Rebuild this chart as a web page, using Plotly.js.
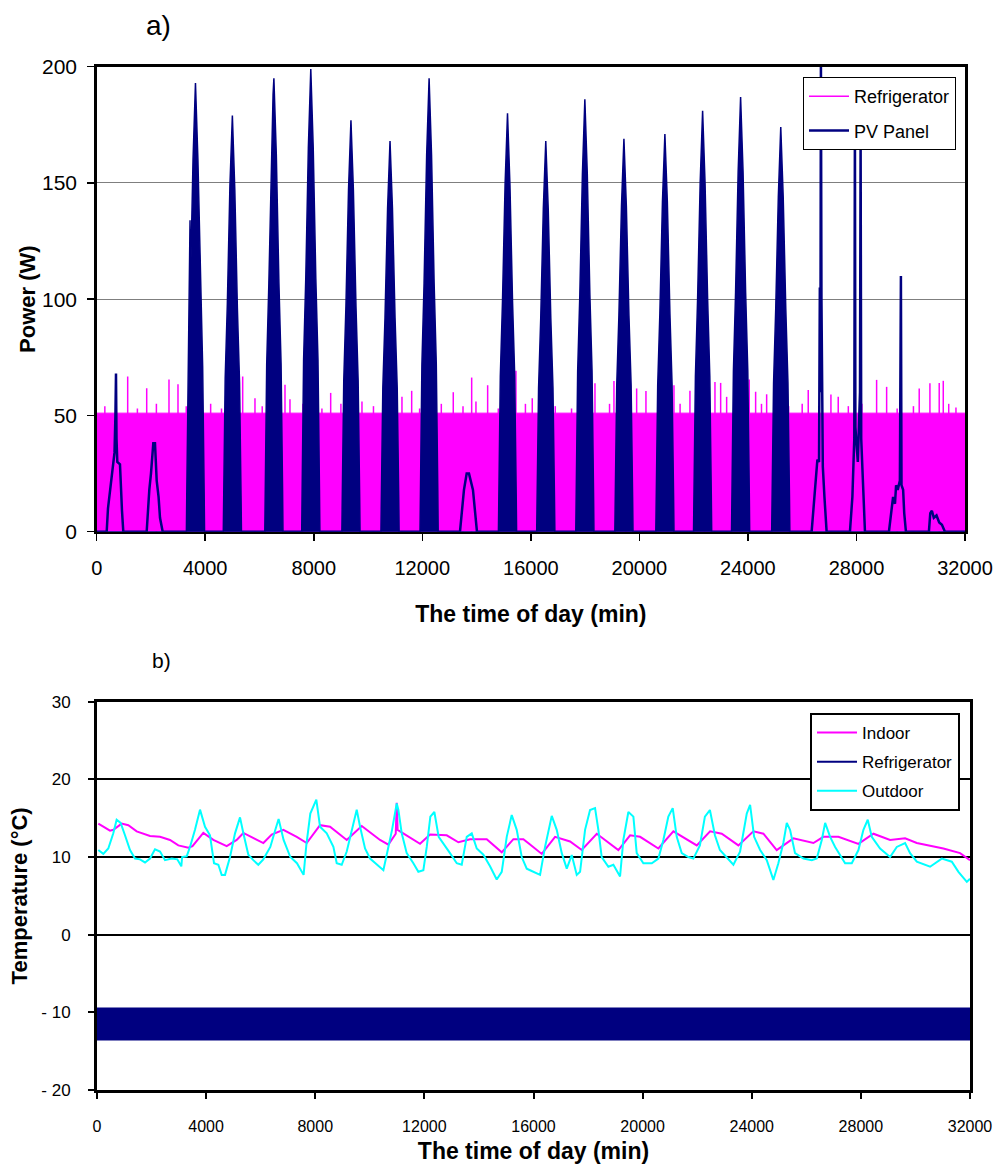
<!DOCTYPE html>
<html>
<head>
<meta charset="utf-8">
<script src="https://cdn.plot.ly/plotly-3.0.1.min.js"></script>
<style>html,body{margin:0;padding:0;background:#fff;}#chart{width:998px;height:1164px;}</style>
</head>
<body>
<div id="chart"></div>
<script>
// ---------- a) Power ----------
const timeTicks = [0, 4000, 8000, 12000, 16000, 20000, 24000, 28000, 32000];
const timeTickText = ['0', '4000', '8000', '12000', '16000', '20000', '24000', '28000', '32000'];

// Refrigerator power: compressor band level and the taller spikes (min, W)
const refBandTime = [0, 32000];
const refBandPower = [51, 51];
const refSpikeTime = [300, 1142, 1500, 1843, 2200, 2664, 2996, 3300, 4200, 4600, 5380, 5833, 6100, 6939, 7123, 7600, 8300, 8623, 9000, 9776, 10200, 11250, 11608, 11900, 12700, 13141, 13500, 13819, 13977, 14408, 14800, 15451, 15800, 16052, 16900, 17500, 18363, 18900, 19063, 19500, 19899, 20242, 20700, 21274, 21500, 21863, 22400, 22785, 22995, 23216, 23700, 24049, 24284, 24500, 24690, 25500, 26000, 26223, 27059, 27328, 27700, 28200, 28743, 29112, 29500, 30100, 30313, 30707, 31050, 31199, 31400, 31667];
const refSpikePower = [54, 66.7, 53, 61.7, 55, 65.5, 63.4, 54, 55, 53, 66.7, 57.4, 54, 63.2, 57, 55, 53, 59.7, 55, 56, 54, 58, 60.6, 53, 55, 60, 54, 66.3, 56, 63, 53, 69.2, 55, 57.4, 54, 53, 63.8, 55, 64.8, 54, 61.6, 60.5, 53, 63, 55, 60.6, 54, 64.4, 64, 58, 53, 65.5, 60.2, 55, 59.1, 54, 55, 61, 59, 58, 54, 55, 65.3, 62.3, 53, 54, 61.6, 63.8, 64, 64.9, 55, 53.4];

// PV panel power on clear days (solid daily envelopes)
const pvSunnyTime = [0,
  3305, 3320, 3375, 3430, 3440, 3450, 3455, 3550, 3640, 3730, 3825, 3905, 3960, 3975,
  4665, 4680, 4735, 4815, 4910, 5000, 5090, 5185, 5265, 5320, 5335,
  6195, 6210, 6265, 6345, 6440, 6500, 6530, 6620, 6715, 6795, 6850, 6865,
  7555, 7570, 7625, 7705, 7800, 7890, 7980, 8075, 8155, 8210, 8225,
  9035, 9050, 9105, 9185, 9280, 9370, 9460, 9555, 9635, 9690, 9705,
  10475, 10490, 10545, 10625, 10720, 10810, 10900, 10995, 11075, 11130, 11145,
  11915, 11930, 11985, 12065, 12160, 12250, 12340, 12435, 12515, 12570, 12585,
  14805, 14820, 14875, 14955, 15050, 15140, 15230, 15325, 15405, 15460, 15475,
  16215, 16230, 16285, 16365, 16460, 16550, 16640, 16735, 16815, 16870, 16885,
  17655, 17670, 17725, 17805, 17900, 17990, 18080, 18175, 18255, 18310, 18325,
  19095, 19110, 19165, 19245, 19340, 19430, 19520, 19615, 19695, 19750, 19765,
  20605, 20620, 20675, 20755, 20850, 20940, 21030, 21125, 21205, 21260, 21275,
  21995, 22010, 22065, 22145, 22240, 22330, 22420, 22515, 22595, 22650, 22665,
  23395, 23410, 23465, 23545, 23640, 23730, 23820, 23915, 23995, 24050, 24065,
  24875, 24890, 24945, 25025, 25120, 25210, 25300, 25395, 25475, 25530, 25545,
  32000];
const pvSunnyPower = [0,
  0, 17, 71, 100, 134, 104, 106, 160, 193, 160, 106, 71, 17, 0,
  0, 16, 66, 98, 149, 179, 147, 96, 64, 15, 0,
  0, 18, 72, 107, 162, 188, 195, 162, 107, 72, 18, 0,
  0, 18, 74, 109, 165, 199, 165, 109, 74, 18, 0,
  0, 16, 65, 97, 147, 177, 147, 97, 65, 16, 0,
  0, 15, 62, 92, 139, 168, 139, 92, 62, 15, 0,
  0, 18, 72, 107, 162, 195, 162, 107, 72, 18, 0,
  0, 16, 67, 99, 149, 180, 149, 99, 67, 16, 0,
  0, 15, 62, 92, 139, 168, 139, 92, 62, 15, 0,
  0, 17, 69, 102, 154, 186, 154, 102, 69, 17, 0,
  0, 15, 63, 93, 140, 169, 140, 93, 63, 15, 0,
  0, 15, 63, 94, 142, 171, 142, 94, 63, 15, 0,
  0, 16, 67, 100, 150, 181, 150, 100, 67, 16, 0,
  0, 17, 69, 103, 155, 187, 155, 103, 69, 17, 0,
  0, 16, 64, 96, 144, 174, 144, 96, 64, 16, 0,
  0];

// PV panel power on cloudy days (outlines and short spikes)
const pvCloudyTime = [0,
  368, 416, 490, 600, 656, 690, 711, 730, 760, 858, 900, 932, 980,
  1842, 1939, 2000, 2086, 2148, 2211, 2280, 2333, 2432,
  13388, 13462, 13535, 13635, 13720, 13867, 13977, 14014,
  26348, 26420, 26500, 26560, 26620, 26650, 26670, 26690, 26710, 26740, 26760, 26820, 26880, 26900,
  27760, 27850, 27920, 27943, 27960, 28050, 28130, 28153, 28175, 28230, 28313,
  29197, 29280, 29350, 29420, 29460, 29520, 29600, 29638, 29660, 29720, 29760, 29823,
  30670, 30720, 30780, 30850, 30950, 31050, 31150, 31260,
  32000];
const pvCloudyPower = [0,
  0, 10, 18, 30, 34, 50, 68, 40, 30, 29, 15, 9, 0,
  0, 18, 25, 38, 38, 22, 15, 6, 0,
  0, 10, 18, 25, 25, 18, 5, 0,
  0, 12, 25, 31, 30, 105, 60, 205, 100, 40, 28, 15, 5, 0,
  0, 15, 40, 178, 45, 30, 60, 172, 40, 21, 0,
  0, 8, 15, 12, 20, 18, 22, 110, 20, 18, 8, 0,
  0, 8, 9, 6, 7, 4, 3, 0,
  0];

// ---------- b) Temperature ----------
const indoorTime = [48, 231, 477, 600, 905, 1148, 1455, 1943, 2310, 2676, 2981, 3347, 3500, 3897, 4264, 4754, 5121, 5365, 5854, 6098, 6404, 6831, 7321, 7688, 8176, 8542, 9154, 9704, 10375, 10680, 10950, 10987, 11020, 11841, 12207, 12819, 13246, 13674, 14286, 14836, 15263, 15629, 15874, 16303, 16790, 17340, 17769, 18319, 19111, 19540, 19907, 20577, 21127, 21985, 22473, 22901, 23510, 24060, 24427, 24915, 25526, 26260, 26626, 27176, 27910, 28460, 29071, 29621, 30050, 31025, 31637, 32000];
const indoorTemp = [14.3, 13.9, 13.4, 13.5, 14.3, 14.1, 13.3, 12.7, 12.6, 12.2, 11.5, 11.2, 11.4, 13.1, 12.2, 11.4, 12.2, 13.1, 12.2, 11.8, 12.9, 13.5, 12.6, 11.8, 14.1, 13.9, 12.2, 14.0, 12.2, 11.6, 13.0, 17.0, 13.5, 11.7, 12.9, 12.8, 11.9, 12.3, 12.3, 10.6, 12.3, 12.3, 11.6, 10.4, 12.6, 12.0, 10.9, 13.0, 10.9, 12.8, 12.6, 11.1, 13.3, 11.5, 13.3, 13.0, 11.5, 13.3, 13.0, 10.9, 12.4, 11.8, 12.6, 12.6, 11.7, 13.0, 12.2, 12.4, 11.8, 11.1, 10.5, 9.6];

const outdoorTime = [48, 231, 414, 597, 720, 866, 1026, 1210, 1393, 1576, 1760, 1943, 2126, 2310, 2493, 2737, 2943, 3091, 3120, 3289, 3409, 3592, 3776, 3959, 4142, 4289, 4448, 4571, 4692, 4876, 5059, 5242, 5365, 5547, 5730, 5913, 6096, 6353, 6537, 6657, 6840, 7086, 7330, 7573, 7672, 7819, 8039, 8176, 8421, 8665, 8787, 8970, 9154, 9337, 9520, 9643, 9825, 10009, 10253, 10497, 10620, 10815, 10987, 11048, 11170, 11353, 11597, 11779, 11963, 12087, 12219, 12366, 12524, 12757, 12940, 13187, 13370, 13553, 13737, 13920, 14163, 14407, 14652, 14836, 15019, 15202, 15385, 15569, 15752, 15874, 16240, 16423, 16669, 16852, 17036, 17219, 17402, 17585, 17707, 17890, 18073, 18256, 18378, 18500, 18745, 18928, 19173, 19294, 19477, 19661, 19784, 20027, 20336, 20577, 20760, 20943, 21103, 21250, 21433, 21676, 21860, 22099, 22283, 22466, 22650, 22833, 23078, 23327, 23571, 23817, 23940, 24087, 24307, 24551, 24792, 24975, 25158, 25284, 25404, 25587, 25893, 26200, 26383, 26567, 26690, 26873, 27056, 27422, 27667, 27910, 28093, 28252, 28399, 28704, 29071, 29316, 29621, 29804, 30050, 30537, 30966, 31333, 31576, 31883, 32000];
const outdoorTemp = [10.9, 10.4, 11.1, 13.05, 14.8, 14.4, 12.8, 10.9, 9.8, 9.7, 9.3, 9.8, 11.0, 10.7, 9.6, 9.8, 9.7, 8.8, 10.0, 10.1, 11.3, 13.5, 16.1, 13.9, 12.8, 9.2, 9.0, 7.7, 7.7, 10.0, 13.05, 15.1, 13.05, 10.3, 9.6, 9.0, 9.7, 11.3, 13.5, 14.9, 12.2, 10.0, 9.2, 7.7, 11.5, 15.6, 17.4, 13.9, 13.05, 11.3, 9.2, 9.0, 10.7, 13.5, 16.1, 13.9, 11.1, 9.8, 9.0, 8.3, 10.3, 13.5, 16.9, 16.05, 13.05, 10.5, 9.2, 8.1, 8.3, 11.3, 15.2, 15.8, 12.6, 11.5, 10.5, 9.2, 9.0, 12.6, 13.05, 11.1, 10.3, 8.8, 7.1, 8.1, 12.6, 15.4, 13.5, 10.0, 8.5, 8.3, 7.7, 11.3, 15.3, 13.5, 10.5, 8.5, 10.25, 7.7, 8.1, 13.5, 16.05, 16.3, 13.5, 10.0, 8.75, 9.0, 7.5, 12.2, 15.8, 15.2, 10.5, 9.2, 9.2, 9.8, 12.2, 15.2, 16.3, 12.6, 10.5, 10.0, 9.8, 11.5, 15.2, 16.05, 12.8, 10.9, 10.0, 9.0, 10.7, 15.6, 16.7, 12.6, 10.9, 9.6, 7.05, 9.2, 11.8, 14.4, 13.5, 10.5, 9.8, 9.6, 9.8, 12.2, 14.4, 12.6, 11.3, 9.2, 9.2, 10.9, 13.5, 14.8, 12.6, 11.1, 10.0, 11.3, 11.8, 10.5, 9.4, 8.75, 9.8, 9.4, 8.1, 6.8, 7.2];

// Refrigerator temperature: dense cycling band (min / max)
const refTempTime = [0, 32000];
const refTempHigh = [-9.5, -9.5];
const refTempLow = [-13.5, -13.5];
const tempTicks = [-20, -10, 0, 10, 20, 30];
const tempTickText = ['- 20', '- 10', '0', '10', '20', '30'];

// ---------- build traces ----------
const spikeX = [], spikeY = [];
refSpikeTime.forEach((t, i) => { spikeX.push(t, t, null); spikeY.push(0, refSpikePower[i], null); });

const MAG = '#FF00FF', NAVY = '#000080', CYAN = '#00FFFF';
const SANS = '"Liberation Sans", Arial, sans-serif';

const traces = [
  {x: refBandTime, y: refBandPower, type: 'scatter', mode: 'lines', fill: 'tozeroy', fillcolor: MAG,
   line: {color: MAG, width: 1}, showlegend: false, hoverinfo: 'skip', xaxis: 'x', yaxis: 'y'},
  {x: spikeX, y: spikeY, type: 'scatter', mode: 'lines', name: 'Refrigerator', legendgroup: 'a1',
   line: {color: MAG, width: 1.5}, xaxis: 'x', yaxis: 'y', legend: 'legend'},
  {x: pvSunnyTime, y: pvSunnyPower, type: 'scatter', mode: 'lines', fill: 'tozeroy', fillcolor: NAVY,
   line: {color: NAVY, width: 1.5}, showlegend: false, xaxis: 'x', yaxis: 'y'},
  {x: pvCloudyTime, y: pvCloudyPower, type: 'scatter', mode: 'lines', name: 'PV Panel', legendgroup: 'a2',
   line: {color: NAVY, width: 2.5}, xaxis: 'x', yaxis: 'y', legend: 'legend'},

  {x: indoorTime, y: indoorTemp, type: 'scatter', mode: 'lines', name: 'Indoor', legendgroup: 'b1',
   line: {color: MAG, width: 2}, xaxis: 'x2', yaxis: 'y2', legend: 'legend2', legendrank: 1},
  {x: refTempTime, y: refTempLow, type: 'scatter', mode: 'lines', name: 'Refrigerator', legendgroup: 'b2',
   line: {color: NAVY, width: 2}, xaxis: 'x2', yaxis: 'y2', legend: 'legend2', legendrank: 2},
  {x: refTempTime, y: refTempHigh, type: 'scatter', mode: 'lines', fill: 'tonexty', fillcolor: NAVY,
   line: {color: NAVY, width: 2}, showlegend: false, xaxis: 'x2', yaxis: 'y2'},
  {x: outdoorTime, y: outdoorTemp, type: 'scatter', mode: 'lines', name: 'Outdoor', legendgroup: 'b3',
   line: {color: CYAN, width: 2}, xaxis: 'x2', yaxis: 'y2', legend: 'legend2', legendrank: 3}
];

const W = 998, H = 1164;
const px = v => v / W, py = v => 1 - v / H;

const layout = {
  width: W, height: H,
  margin: {l: 0, r: 0, t: 0, b: 0},
  paper_bgcolor: '#fff', plot_bgcolor: '#fff',
  font: {family: SANS, color: '#000'},
  xaxis: {
    domain: [px(96.7), px(965)], anchor: 'y', range: [0, 32000], tickvals: timeTicks, ticktext: timeTickText,
    ticks: 'outside', ticklen: 7, tickwidth: 1.5, tickcolor: '#000',
    showline: true, linecolor: '#000', linewidth: 2.5, mirror: true,
    showgrid: false, zeroline: false, ticklabelstandoff: 10,
    tickfont: {family: SANS, size: 20},
    title: {text: '<b>The time of day (min)</b>', font: {family: SANS, size: 23}, standoff: 28}
  },
  yaxis: {
    domain: [py(531.7), py(66.7)], anchor: 'x', range: [0, 200], tickvals: [0, 50, 100, 150, 200],
    ticks: 'outside', ticklen: 7, tickwidth: 1.5, tickcolor: '#000',
    showline: true, linecolor: '#000', linewidth: 2.5, mirror: true,
    showgrid: true, gridcolor: '#7f7f7f', gridwidth: 1, zeroline: false, ticklabelstandoff: 6,
    tickfont: {family: SANS, size: 21},
    title: {text: '<b>Power (W)</b>', font: {family: SANS, size: 22}, standoff: 0}
  },
  xaxis2: {
    domain: [px(97), px(970)], anchor: 'y2', range: [0, 32000], tickvals: timeTicks, ticktext: timeTickText,
    ticks: 'outside', ticklen: 6, tickwidth: 2, tickcolor: '#000',
    showline: true, linecolor: '#000', linewidth: 3, mirror: true,
    showgrid: false, zeroline: false, ticklabelstandoff: 14,
    tickfont: {family: SANS, size: 16},
    title: {text: '<b>The time of day (min)</b>', font: {family: SANS, size: 23}, standoff: 10}
  },
  yaxis2: {
    domain: [py(1090), py(701.7)], anchor: 'x2', range: [-20, 30], tickvals: tempTicks, ticktext: tempTickText,
    ticks: 'outside', ticklen: 6, tickwidth: 2, tickcolor: '#000',
    showline: true, linecolor: '#000', linewidth: 3, mirror: true,
    showgrid: true, gridcolor: '#000', gridwidth: 2, zeroline: false, ticklabelstandoff: 14,
    tickfont: {family: SANS, size: 17},
    title: {text: '<b>Temperature (°C)</b>', font: {family: SANS, size: 22}, standoff: 8}
  },
  legend: {
    x: px(803), y: py(77), xanchor: 'left', yanchor: 'top',
    bgcolor: '#fff', bordercolor: '#000', borderwidth: 1, itemwidth: 40,
    font: {family: SANS, size: 18}, traceorder: 'grouped', tracegroupgap: 8
  },
  legend2: {
    x: px(810), y: py(713), xanchor: 'left', yanchor: 'top',
    bgcolor: '#fff', bordercolor: '#000', borderwidth: 2, itemwidth: 40,
    font: {family: SANS, size: 17}, traceorder: 'grouped', tracegroupgap: 4
  },
  annotations: [
    {text: 'a)', x: px(158), y: py(25), xref: 'paper', yref: 'paper', xanchor: 'center', yanchor: 'middle',
     showarrow: false, font: {family: SANS, size: 28}},
    {text: 'b)', x: px(161), y: py(660), xref: 'paper', yref: 'paper', xanchor: 'center', yanchor: 'middle',
     showarrow: false, font: {family: SANS, size: 21}}
  ]
};

Plotly.newPlot('chart', traces, layout, {displayModeBar: false, staticPlot: true});
</script>
</body>
</html>
